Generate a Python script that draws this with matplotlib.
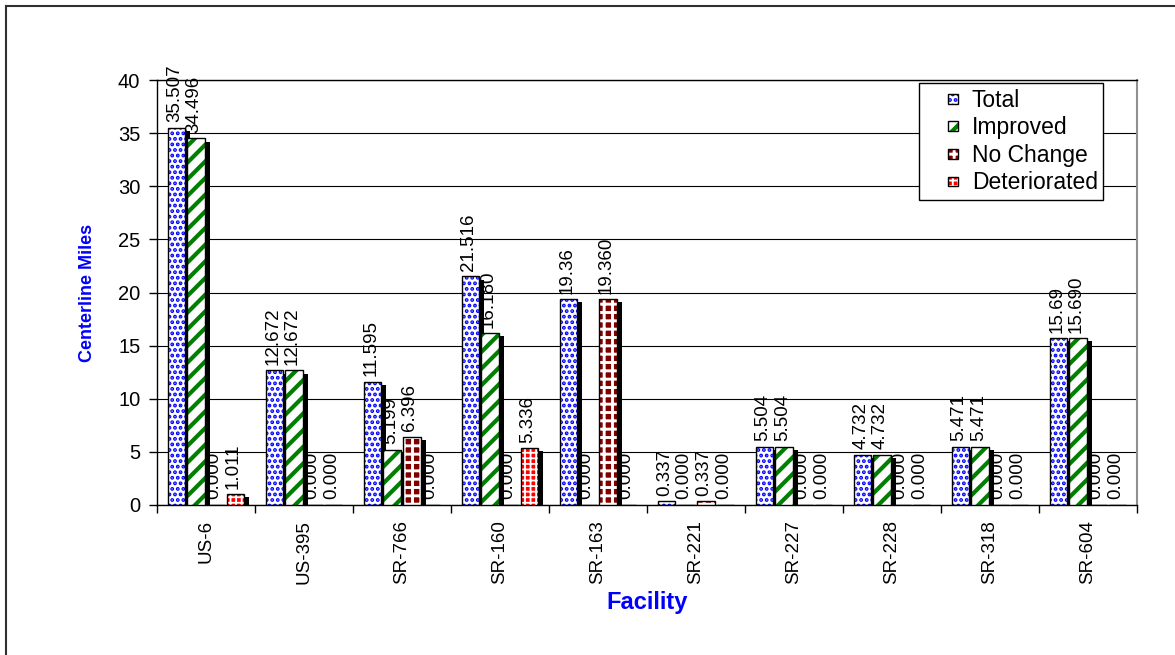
import numpy as np
import matplotlib.pyplot as plt
from matplotlib.patches import Patch, Rectangle
from matplotlib.lines import Line2D
from matplotlib.legend_handler import HandlerBase

plt.rcParams['font.family'] = ['Liberation Sans', 'DejaVu Sans']
plt.rcParams['hatch.linewidth'] = 1.5

facilities = ['US-6', 'US-395', 'SR-766', 'SR-160', 'SR-163',
              'SR-221', 'SR-227', 'SR-228', 'SR-318', 'SR-604']
total = [35.507, 12.672, 11.595, 21.516, 19.36, 0.337, 5.504, 4.732, 5.471, 15.69]
improved = [34.496, 12.672, 5.199, 16.180, 0.000, 0.000, 5.504, 4.732, 5.471, 15.690]
no_change = [0.000, 0.000, 6.396, 0.000, 19.360, 0.337, 0.000, 0.000, 0.000, 0.000]
deteriorated = [1.011, 0.000, 0.000, 5.336, 0.000, 0.000, 0.000, 0.000, 0.000, 0.000]

series_names = ['Total', 'Improved', 'No Change', 'Deteriorated']
series_values = [total, improved, no_change, deteriorated]

# fill colour, hatch, hatch colour and hatch width for each series
styles = [
    dict(face='white', hatch='...', ink='#0000FF', hlw=1.9),
    dict(face='white', hatch='//', ink='#008000', hlw=3.0),
    dict(face='#800000', hatch='++', ink='white', hlw=2.1),
    dict(face='#FF0000', hatch='+++', ink='white', hlw=1.3),
]

bar_w = 0.18
step = 0.2
depth_x = 0.05   # side face of the 3-D bar, in category units
depth_y = 0.3    # drop of the side face top, in miles


def fmt(name, v):
    if name == 'Total':
        return f'{v:g}'
    return f'{v:.3f}'


def hatched(patch, lw):
    if hasattr(patch, 'set_hatch_linewidth'):
        patch.set_hatch_linewidth(lw)
    return patch


class KeyHandler(HandlerBase):
    # small square key pushed to the right of the handle box
    def create_artists(self, legend, orig_handle, xdescent, ydescent,
                       width, height, fontsize, trans):
        side = 0.42 * fontsize
        x0 = width - side - xdescent
        y0 = (height - side) / 2 - ydescent
        with plt.rc_context({'hatch.linewidth': orig_handle.hlw}):
            fill = Rectangle((x0, y0), side, side,
                             facecolor=orig_handle.get_facecolor(),
                             edgecolor=orig_handle.get_edgecolor(),
                             hatch=orig_handle.get_hatch(), linewidth=0,
                             transform=trans)
        hatched(fill, orig_handle.hlw)
        edge = Rectangle((x0, y0), side, side, fill=False,
                         edgecolor='black', linewidth=1, transform=trans)
        return [fill, edge]


fig = plt.figure(figsize=(11.75, 6.55), dpi=100)
ax = fig.add_axes([157 / 1175, 150 / 655, 980 / 1175, 425 / 655])

x = np.arange(len(facilities)) + 0.5
for i, (name, vals, st) in enumerate(zip(series_names, series_values, styles)):
    vals = np.asarray(vals)
    pos = x + (i - 1.5) * step
    z = 2 + i
    ax.bar(pos + depth_x, np.clip(vals - depth_y, 0, None), width=bar_w,
           color='black', linewidth=0, zorder=z)
    with plt.rc_context({'hatch.linewidth': st['hlw']}):
        faces = ax.bar(pos, vals, width=bar_w, color=st['face'],
                       edgecolor=st['ink'], hatch=st['hatch'], linewidth=0,
                       zorder=z + 0.1)
    for p in faces:
        hatched(p, st['hlw'])
    ax.bar(pos, vals, width=bar_w, fill=False, edgecolor='black',
           linewidth=1, zorder=z + 0.2)
    for p, v in zip(pos, vals):
        ax.annotate(fmt(name, v), (p - 0.02, v), xytext=(0, 4),
                    textcoords='offset points', rotation=90,
                    ha='center', va='bottom', fontsize=13.5, zorder=10)

ax.set_xlim(0, len(facilities))
ax.set_ylim(0, 40)
ax.set_yticks(range(0, 41, 5))
ax.yaxis.grid(True, color='black', linewidth=0.8)
ax.set_axisbelow(True)

ax.set_xticks(x)
ax.set_xticklabels(facilities, rotation=90, fontsize=13.5)
ax.set_xticks(np.arange(len(facilities) + 1), minor=True)
ax.tick_params(axis='x', which='major', length=0, pad=11)
ax.tick_params(axis='x', which='minor', length=6, direction='out', width=1)
ax.tick_params(axis='y', length=6, direction='out', width=1, labelsize=14.5, pad=6)

for side in ['left', 'bottom', 'top']:
    ax.spines[side].set_color('black')
    ax.spines[side].set_linewidth(1)
ax.spines['right'].set_color('#909090')
ax.spines['right'].set_linewidth(1.5)

ax.set_ylabel('Centerline Miles', color='#0000FF', fontweight='bold',
              fontsize=13, labelpad=16)
ax.set_xlabel('Facility', color='#0000FF', fontweight='bold',
              fontsize=17, labelpad=5)

handles = []
for st in styles:
    h = Patch(facecolor=st['face'], edgecolor=st['ink'], hatch=st['hatch'])
    h.hlw = st['hlw']
    handles.append(h)
leg = ax.legend(handles, series_names, loc='upper left',
                bbox_to_anchor=(919 / 1175, 1 - 83 / 655),
                bbox_transform=fig.transFigure, borderaxespad=0,
                fontsize=16.5, handlelength=1.45, handletextpad=0.6,
                borderpad=0.25, labelspacing=0.2, fancybox=False,
                framealpha=1, edgecolor='black',
                handler_map={Patch: KeyHandler()})
leg.get_frame().set_linewidth(1)
leg.set_zorder(20)

# outer chart border
fig.add_artist(Line2D([5.5 / 1175, 5.5 / 1175], [0, 1 - 6 / 655],
                      color='#303030', linewidth=1.5))
fig.add_artist(Line2D([5.5 / 1175, 1], [1 - 6 / 655, 1 - 6 / 655],
                      color='#303030', linewidth=1.5))

fig.savefig('out.png', dpi=100)
